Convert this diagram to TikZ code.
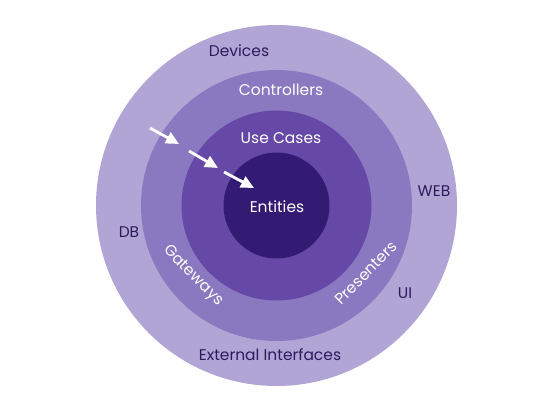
\documentclass[tikz,border=0pt]{standalone}
\usepackage{fontspec}
\setmainfont{Poppins}
\usetikzlibrary{arrows.meta}
\definecolor{ringA}{HTML}{B1A5D5}
\definecolor{ringB}{HTML}{8A79C0}
\definecolor{ringC}{HTML}{6649A6}
\definecolor{ringD}{HTML}{331A72}
\definecolor{darktext}{HTML}{2D1B5E}
\tikzset{
  ring/.style={circle, inner sep=0pt, minimum size=#1},
  darklabel/.style={text=darktext, font=\fontsize{15.5}{18}\selectfont, inner sep=0pt},
  lightlabel/.style={text=white, font=\fontsize{15.5}{18}\selectfont, inner sep=0pt},
  flow/.style={white, line width=2.8pt, -{Triangle[length=13pt, width=12pt]}}
}
\begin{document}
\begin{tikzpicture}[x=1pt, y=-1pt]
\useasboundingbox (0,0) rectangle (550,410);
\node[ring=361pt, fill=ringA] (outer) at (276.5,205.5) {};
\node[ring=271pt, fill=ringB] (ctrl) at (276.5,205.5) {};
\node[ring=190pt, fill=ringC] (uc) at (276.5,205.5) {};
\node[ring=106pt, fill=ringD] (ent) at (276.5,205.5) {};

\node[darklabel] (devices) at (239,51) {Devices};
\node[lightlabel] (controllers) at (281,90) {Controllers};
\node[lightlabel] (usecases) at (281,138) {Use Cases};
\node[lightlabel] (entities) at (277,207) {Entities};
\node[darklabel] (web) at (434,191) {WEB};
\node[darklabel] (db) at (129,232) {DB};
\node[darklabel] (ui) at (405,293) {UI};
\node[darklabel] (ext) at (270,355) {External Interfaces};
\node[lightlabel, rotate=-45] (gateways) at (193,276) {Gateways};
\node[lightlabel, rotate=45] (presenters) at (366,273) {Presenters};

\coordinate (a1s) at (150,128); \coordinate (a1e) at (179,144);
\coordinate (a2s) at (189,151); \coordinate (a2e) at (218,168);
\coordinate (a3s) at (224,172); \coordinate (a3e) at (254,188);
\draw[flow] (a1s) -- (a1e);
\draw[flow] (a2s) -- (a2e);
\draw[flow] (a3s) -- (a3e);
\end{tikzpicture}
\end{document}
